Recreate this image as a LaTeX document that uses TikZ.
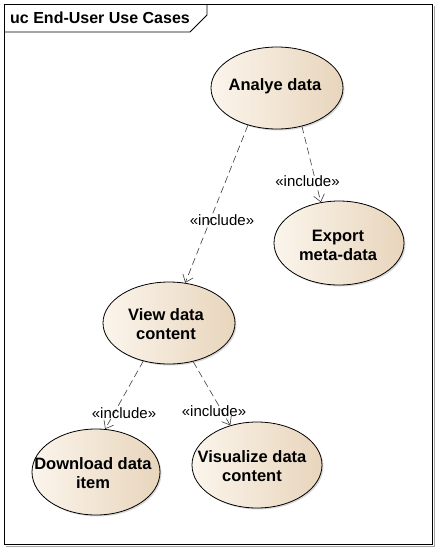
\documentclass[tikz,border=0pt]{standalone}
\usepackage{fontspec}
\setmainfont{Liberation Sans}
\usetikzlibrary{shapes.geometric,arrows.meta,shadows}
\definecolor{ucleft}{RGB}{251,245,236}
\definecolor{ucright}{RGB}{232,213,188}
\definecolor{lineg}{RGB}{60,60,60}
\begin{document}
\begin{tikzpicture}[x=1pt,y=-1pt,
  usecase/.style={ellipse,draw=black,line width=0.8pt,inner sep=0pt,
    left color=ucleft,right color=ucright,
    drop shadow={shadow xshift=1.5pt,shadow yshift=-1.5pt,fill=black!30}},
  uctext/.style={align=center,inner sep=0pt,font=\fontsize{16.5}{19}\selectfont\bfseries},
  incl/.style={draw=lineg,line width=0.6pt,dash pattern=on 7pt off 4pt,
    -{Straight Barb[length=7pt,width=11pt]}},
  lbl/.style={font=\fontsize{15}{17}\selectfont,inner sep=0pt}]
\useasboundingbox (0,0) rectangle (437,550);
\fill[white] (0,0) rectangle (437,550);
% frame
\draw[black!35,line width=1pt] (6,546) -- (434,546) -- (434,6);
\draw[black,line width=0.8pt] (4,4) rectangle (432,544);
\draw[black,line width=0.8pt] (4,32) -- (190,32) -- (207,15) -- (207,4);
\node[anchor=west,inner sep=0pt,font=\fontsize{16}{18}\selectfont\bfseries] (title) at (10,18) {uc End-User Use Cases};
% use cases
\node[usecase,minimum width=132pt,minimum height=82pt] (analyse) at (277,88) {};
\node[usecase,minimum width=130pt,minimum height=84pt] (export) at (339,243) {};
\node[usecase,minimum width=132pt,minimum height=82pt] (view) at (169,323) {};
\node[usecase,minimum width=128pt,minimum height=86pt] (download) at (96,472) {};
\node[usecase,minimum width=130pt,minimum height=86pt] (visual) at (257,465) {};
\node[uctext] (analyseT) at (275,86) {Analye data};
\node[uctext] (exportT) at (338,245) {Export\\meta-data};
\node[uctext] (viewT) at (166,324) {View data\\content};
\node[uctext] (downloadT) at (93,473) {Download data\\item};
\node[uctext] (visualT) at (252,466) {Visualize data\\content};
% include relations
\draw[incl] (analyse.232) -- (view.68);
\draw[incl] (analyse.303) -- (export.114);
\draw[incl] (view.236) -- (download.78);
\draw[incl] (view.302) -- (visual.124);
\node[lbl] (l1) at (222,220) {«include»};
\node[lbl] (l2) at (307.5,181) {«include»};
\node[lbl] (l3) at (124,413) {«include»};
\node[lbl] (l4) at (214,411) {«include»};
\end{tikzpicture}
\end{document}
